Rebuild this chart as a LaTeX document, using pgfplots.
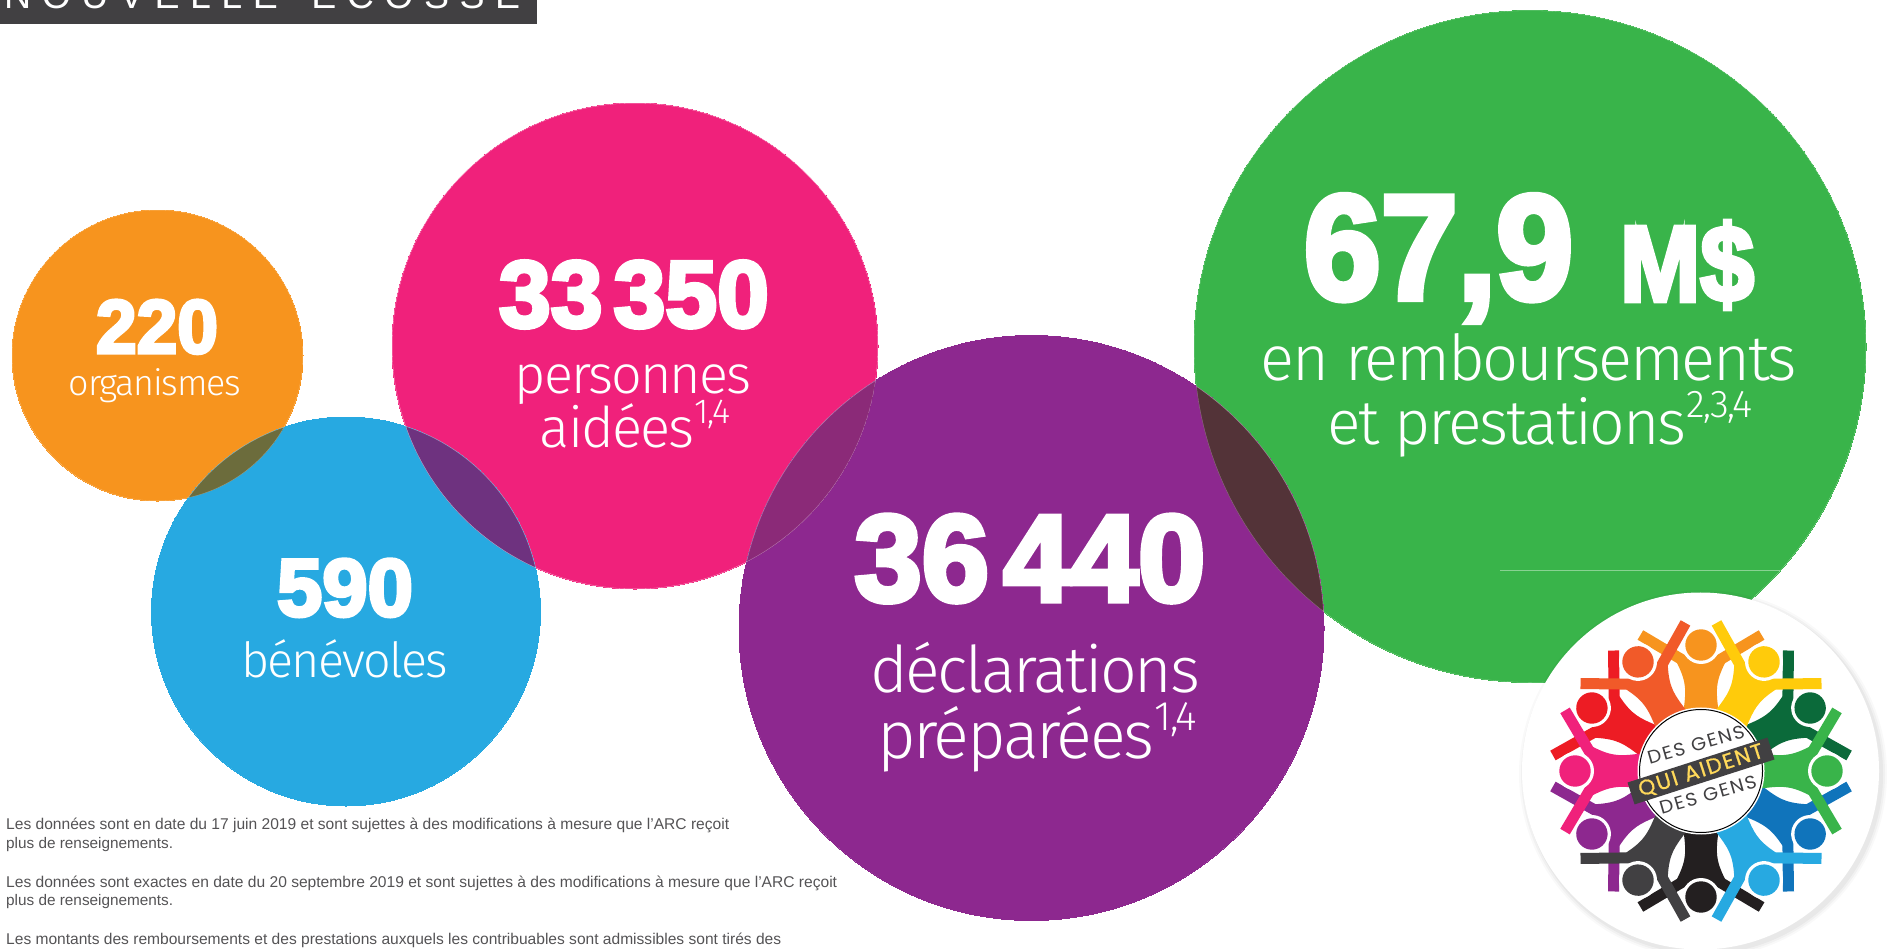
\documentclass[border=0pt]{standalone}
\usepackage{fontspec}
\usepackage{graphicx}
\usepackage{pgfplots}
\pgfplotsset{compat=1.18}
\setmainfont{Liberation Sans}
\newfontfamily\lightf[LetterSpace=-3.5]{Fira Sans Light}
\newfontfamily\numf[FakeBold=4.2]{Liberation Sans Bold}
\newfontfamily\logof[LetterSpace=8]{Poppins}
\newfontfamily\logoqf[LetterSpace=8,FakeBold=0.8]{Poppins}
\newfontfamily\bannerf[LetterSpace=28]{Liberation Sans}

\definecolor{corange}{HTML}{F7941E}
\definecolor{cpink}{HTML}{F0217B}
\definecolor{cblue}{HTML}{27A9E1}
\definecolor{cpurple}{HTML}{8D288F}
\definecolor{cgreen}{HTML}{39B44A}
\definecolor{cgrey}{HTML}{414042}
\definecolor{cdgreen}{HTML}{0B6A3A}
\definecolor{cdblue}{HTML}{1074BB}
\definecolor{cblack}{HTML}{231F20}
\definecolor{cred}{HTML}{ED1C24}
\definecolor{credor}{HTML}{F15A29}
\definecolor{cyel}{HTML}{FFCB0B}
\definecolor{cyeltxt}{HTML}{FFD95A}

% width, cap height, text
\newcommand\bignum[3]{\resizebox{#1pt}{#2pt}{\numf #3}}
\newcommand\lab[2]{\resizebox{#1pt}{!}{\lightf\fontsize{50}{60}\selectfont #2}}
\newcommand\sups[1]{\raisebox{.42em}{\scalebox{.62}{#1}}}
\newcommand\foot[2]{\resizebox{#1pt}{!}{\fontsize{16}{18}\selectfont\color{cgrey!90} #2}}
\newcommand\lens[7]{\pgfplotsextra{\begin{scope}
  \clip (axis cs:#1,#2) circle[radius=#3pt];
  \fill[#7] (axis cs:#4,#5) circle[radius=#6pt];
  \draw[white,opacity=.35,line width=.6pt] (axis cs:#1,#2) circle[radius=#3pt];
  \draw[white,opacity=.35,line width=.6pt] (axis cs:#4,#5) circle[radius=#6pt];
\end{scope}}}
\newcommand\person[2]{\begin{scope}[rotate=-#1]
  \fill[#2] (-17.5,60) .. controls (-15,80) and (-14,88) .. (-24,108) -- (24,108)
     .. controls (14,88) and (15,80) .. (17.5,60) -- cycle;
  \draw[#2,line width=11pt] (60.6,136) -- (0,100) -- (-60.6,136);
  \fill[white] (0,126) circle (19);
  \fill[#2] (0,126) circle (15.7);
\end{scope}}
\pgfplotsset{
  bub/.style n args={2}{only marks,mark=*,mark size=#1pt,color=#2,mark options={fill=#2,draw=#2,line width=0pt}},
  page/.style={at={(0,0)},anchor=south west,
    width=1887pt,height=948pt,scale only axis,
    xmin=0,xmax=1887,ymin=0,ymax=948,y dir=reverse,
    hide axis,clip=false},
}

\begin{document}
\begin{tikzpicture}[x=1pt,y=1pt]
\path[clip,use as bounding box] (0,0) rectangle (1887,948);
\begin{axis}[page]
\addplot[bub={145.5}{corange}] coordinates {(157.5,355.5)};
\addplot[bub={243}{cpink}] coordinates {(635,346)};
\addplot[bub={194.5}{cblue}] coordinates {(346,611.5)};
\addplot[bub={336}{cgreen}] coordinates {(1530,346.5)};
\addplot[bub={292.5}{cpurple}] coordinates {(1031.5,628)};
\end{axis}

\begin{axis}[page]
\lens{157.5}{355.5}{145.5}{346}{611.5}{194.5}{fill={rgb,255:red,108;green,108;blue,60}}
\lens{635}{346}{243}{346}{611.5}{194.5}{fill={rgb,255:red,110;green,50;blue,127}}
\lens{635}{346}{243}{1031.5}{628}{292.5}{fill={rgb,255:red,139;green,42;blue,120}}
\lens{1530}{346.5}{336}{1031.5}{628}{292.5}{fill={rgb,255:red,83;green,51;blue,56}}

\fill[cgrey] (axis cs:0,-2) rectangle (axis cs:537,24);
\node[anchor=base west,white,inner sep=0pt] at (axis cs:4,8.5) {\resizebox{516pt}{!}{\bannerf\fontsize{50}{60}\selectfont NOUVELLE-ÉCOSSE}};

\node[anchor=base,white,inner sep=0pt] at (axis cs:157,353) {\bignum{122}{53}{220}};
\node[anchor=base,white,inner sep=0pt] at (axis cs:155,395) {\lab{172}{organismes}};
\node[anchor=base,white,inner sep=0pt] at (axis cs:634,327) {\bignum{270}{66}{33\hspace{.12em}350}};
\node[anchor=base,white,inner sep=0pt] at (axis cs:633,393) {\lab{237}{personnes}};
\node[anchor=base,white,inner sep=0pt] at (axis cs:635,447) {\lab{190}{aidées\sups{1,4}}};
\node[anchor=base,white,inner sep=0pt] at (axis cs:345,616) {\bignum{136}{57}{590}};
\node[anchor=base,white,inner sep=0pt] at (axis cs:344.5,677) {\lab{207}{bénévoles}};
\node[anchor=base,white,inner sep=0pt] at (axis cs:1030,601) {\bignum{351}{86}{36\hspace{.12em}440}};
\node[anchor=base,white,inner sep=0pt] at (axis cs:1035,692) {\lab{330}{déclarations}};
\node[anchor=base,white,inner sep=0pt] at (axis cs:1037,758) {\lab{320}{préparées\sups{1,4}}};
\node[anchor=base,white,inner sep=0pt] at (axis cs:1438.5,299) {\bignum{269}{104}{67,9}};
\node[anchor=base,white,inner sep=0pt] at (axis cs:1687,301) {\bignum{134}{80}{M\$}};
\node[anchor=base,white,inner sep=0pt] at (axis cs:1529,380) {\lab{536}{en remboursements}};
\node[anchor=base,white,inner sep=0pt] at (axis cs:1540,444) {\lab{426}{et prestations\sups{2,3,4}}};
\draw[white,opacity=.4,line width=.5pt] (axis cs:1500,570.5) -- (axis cs:1780,570.5);

\node[anchor=base west,inner sep=0pt] at (axis cs:6,829) {\foot{723}{Les données sont en date du 17 juin 2019 et sont sujettes à des modifications à mesure que l’ARC reçoit}};
\node[anchor=base west,inner sep=0pt] at (axis cs:6,848) {\foot{167}{plus de renseignements.}};
\node[anchor=base west,inner sep=0pt] at (axis cs:6,887) {\foot{831}{Les données sont exactes en date du 20 septembre 2019 et sont sujettes à des modifications à mesure que l’ARC reçoit}};
\node[anchor=base west,inner sep=0pt] at (axis cs:6,905) {\foot{167}{plus de renseignements.}};
\node[anchor=base west,inner sep=0pt] at (axis cs:6,944) {\foot{775}{Les montants des remboursements et des prestations auxquels les contribuables sont admissibles sont tirés des}};
\end{axis}

% logo
\foreach \r/\o in {184/.025,182/.03,180/.04}{
  \fill[black,opacity=\o] (1703,174) circle (\r);
}
\fill[white] (1700.5,177) circle (178.5);
\begin{scope}[shift={(1701,177)}]
  \person{0}{corange}
  \person{60}{cdgreen}
  \person{120}{cdblue}
  \person{180}{cblack}
  \person{240}{cpurple}
  \person{300}{cred}
  \person{330}{credor}
  \person{30}{cyel}
  \person{90}{cgreen}
  \person{150}{cblue}
  \person{210}{cgrey}
  \person{270}{cpink}
  \fill[white] (0,0) circle (63.5);
  \draw[black,line width=1pt] (0,0) circle (61.5);
  \fill[rotate=17.8,cgrey] (-73.5,-11.5) rectangle (73.5,11.5);
  \node[rotate=17.8,inner sep=0pt,text=cyeltxt] at (0,0) {\resizebox{130pt}{15pt}{\logoqf QUI AIDENT}};
  \node[rotate=16,inner sep=0pt,text=cgrey] at (-5,26) {\resizebox{100pt}{13pt}{\logof DES GENS}};
  \node[rotate=16,inner sep=0pt,text=cgrey] at (7,-24) {\resizebox{100pt}{13pt}{\logof DES GENS}};
\end{scope}
\end{tikzpicture}
\end{document}
